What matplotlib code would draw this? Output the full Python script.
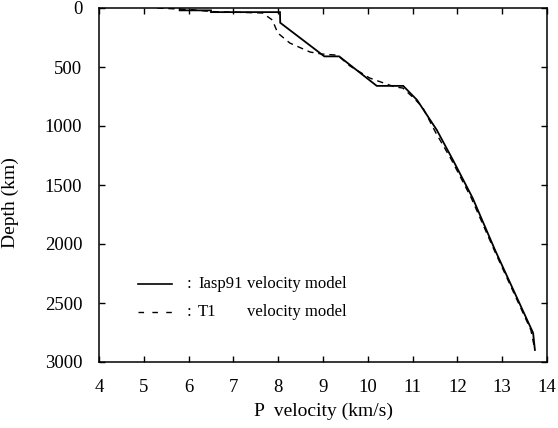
import matplotlib
matplotlib.use("Agg")
import matplotlib.pyplot as plt

# Iasp91 P-velocity model (km/s) vs depth (km)
iasp_v = [5.80, 5.80, 6.50, 6.50, 8.04, 8.045, 9.03, 9.36, 10.20, 10.79, 11.10, 11.54, 11.90, 12.34, 12.84, 13.66, 13.69, 13.73]
iasp_d = [0, 20, 20, 35, 35, 125, 410, 410, 660, 660, 780, 1034, 1288, 1610, 2051, 2729, 2754, 2898]

# T1 P-velocity model
t1_v = [5.30, 6.10, 6.50, 7.65, 7.87, 7.99, 8.26, 8.71, 8.97, 9.26, 9.37, 9.60, 10.04, 10.60, 10.78, 11.00, 11.22, 11.52, 11.87, 12.31, 12.83, 13.64, 13.73]
t1_d = [0, 15, 30, 42, 102, 212, 297, 373, 390, 398, 415, 491, 593, 669, 678, 754, 839, 1059, 1288, 1610, 2059, 2729, 2898]

xticks = [4, 5, 6, 7, 8, 9, 10, 11, 12, 13, 14]
yticks = [0, 500, 1000, 1500, 2000, 2500, 3000]

plt.rcParams['font.family'] = ['Liberation Serif', 'DejaVu Serif']

fig = plt.figure(figsize=(5.58, 4.28), dpi=100)
ax = fig.add_axes([99/558, 1-362/428, (547-99)/558, (362-8)/428])

ax.plot(iasp_v, iasp_d, color='black', lw=1.3, solid_joinstyle='miter')
ax.plot(t1_v, t1_d, color='black', lw=1.0, linestyle=(0, (4.5, 3.5)))

ax.set_xlim(4, 14)
ax.set_ylim(3000, 0)
ax.set_xticks(xticks)
ax.set_yticks(yticks)
ax.set_xticklabels([str(t) for t in xticks])
ax.set_yticklabels([str(t) for t in yticks])
ax.tick_params(direction='in', length=4, width=1, top=True, right=True,
               labelsize=13.5, pad=12)
for s in ax.spines.values():
    s.set_linewidth(1.1)

ax.set_xlabel('P  velocity (km/s)', fontsize=14, labelpad=5)
ax.set_ylabel('Depth (km)', fontsize=14)
ax.yaxis.set_label_coords(-0.179, 0.45)

# legend drawn manually
tr = ax.transAxes
ax.plot([0.087, 0.163], [0.220, 0.220], color='black', lw=1.2, transform=tr)
ax.plot([0.087, 0.163], [0.141, 0.141], color='black', lw=1.0,
        linestyle=(0, (4, 6)), transform=tr)
fs = 12
ax.text(0.196, 0.220, ':', transform=tr, fontsize=fs, va='center', ha='left')
ax.text(0.221, 0.220, 'Iasp91', transform=tr, fontsize=fs, va='center', ha='left')
ax.text(0.331, 0.220, 'velocity model', transform=tr, fontsize=fs, va='center', ha='left')
ax.text(0.196, 0.141, ':', transform=tr, fontsize=fs, va='center', ha='left')
ax.text(0.221, 0.141, 'T1', transform=tr, fontsize=fs, va='center', ha='left')
ax.text(0.331, 0.141, 'velocity model', transform=tr, fontsize=fs, va='center', ha='left')

fig.savefig('out.png', dpi=100)
